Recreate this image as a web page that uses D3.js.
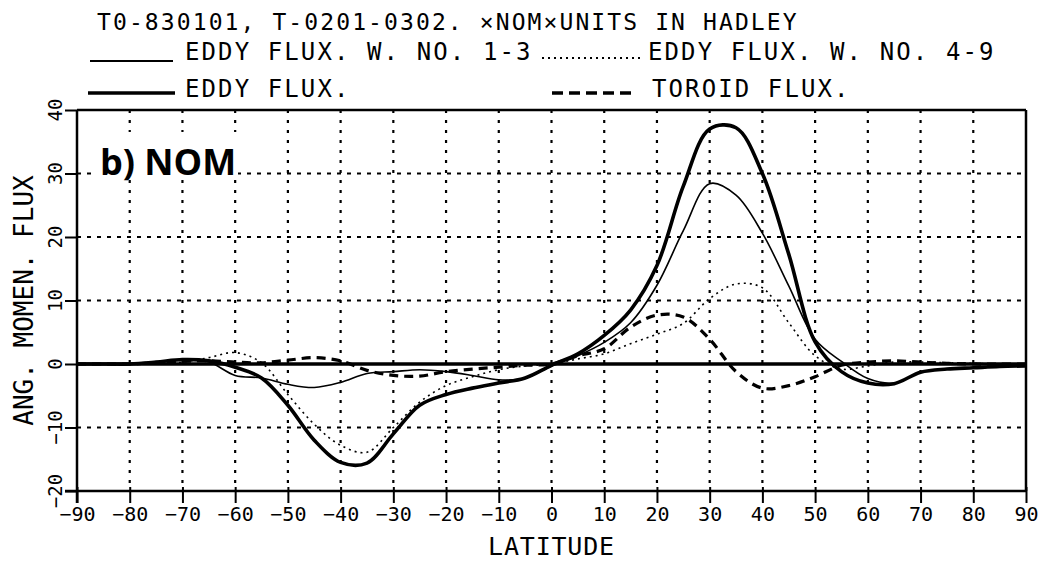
<!DOCTYPE html>
<html>
<head>
<meta charset="utf-8">
<script src="https://cdn.jsdelivr.net/npm/d3@7"></script>
<style>
  body { margin: 0; background: #fff; }
  .canvas { width: 1039px; height: 562px; }
  text { font-family: "DejaVu Sans Mono", monospace; fill: #000; }
</style>
</head>
<body>
<div class="canvas"></div>
<script>
// latitude grid (deg) shared by all series
var lats = [-90,-85,-80,-75,-70,-65,-60,-55,-50,-45,-40,-35,-30,-25,-20,-15,-10,-5,
            0,5,10,15,20,25,30,35,40,45,50,55,60,65,70,75,80,85,90];

// eddy flux, wave numbers 1-3 (thin solid)
var eddy13 = [0,0,0,0.3,0.6,0.3,-1.8,-2.2,-3.2,-3.7,-2.9,-1.5,-1.2,-0.9,-1.2,-1.8,-2.5,-2.2,
              -0.3,1.3,3.4,6.5,12.4,21,28.4,26.6,20.6,12.3,3.9,0.4,-2.3,-3.0,-1.3,-0.8,-0.6,-0.4,-0.3];
// eddy flux, wave numbers 4-9 (dotted)
var eddy49 = [0,0,0,0,0.3,1.0,1.8,0.2,-4.8,-9.5,-12.8,-13.9,-10,-6,-3.4,-2,-0.9,-0.3,
              0,0.8,1.6,3.2,4.7,6.4,10.3,12.6,12,6.5,1.3,-0.8,-0.3,0.3,0.3,0.2,0.1,0,0];
// total eddy flux (thick solid)
var eddyAll = [0,0,0,0.3,0.7,0.5,-0.5,-2.2,-6.5,-12,-15.5,-15.6,-11,-6.5,-4.8,-3.8,-3.0,-2.2,
               -0.2,1.6,4.5,8.5,15.5,28,37,37.2,30,17.3,3.5,-1.2,-3.0,-3.1,-1.3,-0.8,-0.6,-0.4,-0.3];
// toroidal flux (thick dashed)
var toroid = [0,0,0,0.2,0.4,0.5,0.3,0.2,0.6,1.0,0.5,-1.0,-1.8,-1.9,-1.2,-0.8,-0.5,-0.2,
              0,1.3,2.4,5.8,7.7,7.4,3.9,-1.2,-3.8,-3.4,-2.0,-0.2,0.3,0.5,0.3,0.1,0,0,0];

var xTicks = d3.range(-90, 91, 10);
var yTicks = [-20,-10,0,10,20,30,40];
var xGrid = d3.range(-80, 81, 10);
var yGrid = [-10,10,20,30];

var titleText = 'T0-830101, T-0201-0302. \u00d7NOM\u00d7UNITS IN HADLEY';
var legendLabels = ['EDDY FLUX. W. NO. 1-3', 'EDDY FLUX. W. NO. 4-9', 'EDDY FLUX.', 'TOROID FLUX.'];

var width = 1039, height = 562;
var svg = d3.select('.canvas').append('svg')
	.attr('width', width).attr('height', height);

var x = d3.scaleLinear().domain([-90, 90]).range([77, 1026]);
var y = d3.scaleLinear().domain([-20, 40]).range([491, 110]);

// grid
svg.selectAll('line.vgrid').data(xGrid).enter().append('line')
	.attr('x1', d => x(d)).attr('x2', d => x(d))
	.attr('y1', y(40)).attr('y2', y(-20))
	.attr('stroke', '#000').attr('stroke-width', 2.2)
	.attr('stroke-dasharray', '3,7');
svg.selectAll('line.hgrid').data(yGrid).enter().append('line')
	.attr('x1', x(-90)).attr('x2', x(90))
	.attr('y1', d => y(d)).attr('y2', d => y(d))
	.attr('stroke', '#000').attr('stroke-width', 2.2)
	.attr('stroke-dasharray', '4,6');

// frame
svg.append('line').attr('x1', x(-90)).attr('x2', x(90)).attr('y1', y(40)).attr('y2', y(40))
	.attr('stroke', '#000').attr('stroke-width', 2.5);
svg.append('line').attr('x1', x(90)).attr('x2', x(90)).attr('y1', y(40)).attr('y2', y(-20))
	.attr('stroke', '#000').attr('stroke-width', 2.5);
svg.append('line').attr('x1', x(-90)).attr('x2', x(90)).attr('y1', y(0)).attr('y2', y(0))
	.attr('stroke', '#000').attr('stroke-width', 3.5);

// axes
var xAxis = d3.axisBottom(x).tickValues(xTicks).tickSize(12).tickPadding(4)
	.tickFormat(d => d < 0 ? '\u2212' + Math.abs(d) : d);
var gx = svg.append('g').attr('transform', 'translate(0,' + y(-20) + ')').call(xAxis);
gx.select('.domain').attr('stroke-width', 2.5).attr('d', 'M' + (x(-90) - 12) + ',0H' + x(90));
gx.selectAll('.tick line').attr('stroke-width', 2).attr('y1', -4);
gx.selectAll('.tick text').attr('font-size', 20).attr('font-family', '"DejaVu Sans Mono", monospace');

var yAxis = d3.axisLeft(y).tickValues(yTicks).tickSize(12).tickFormat('');
var gy = svg.append('g').attr('transform', 'translate(' + x(-90) + ',0)').call(yAxis);
gy.select('.domain').attr('stroke-width', 2.5).attr('d', 'M0,' + y(40) + 'V' + (y(-20) + 12));
gy.selectAll('.tick line').attr('stroke-width', 2);

svg.selectAll('text.ylab').data(yTicks).enter().append('text')
	.attr('class', 'ylab')
	.attr('transform', d => 'translate(62,' + y(d) + ') rotate(-90)')
	.attr('text-anchor', 'middle')
	.attr('font-size', 19)
	.text(d => d < 0 ? '\u2212' + Math.abs(d) : d);

// axis titles
svg.append('text').attr('x', x(0)).attr('y', 555)
	.attr('text-anchor', 'middle').attr('font-size', 25).attr('letter-spacing', 0.8).text('LATITUDE');
svg.append('text').attr('transform', 'translate(33,' + y(10) + ') rotate(-90)')
	.attr('text-anchor', 'middle').attr('font-size', 26).text('ANG. MOMEN. FLUX');

// curves
var line = d3.line()
	.x((d, i) => x(lats[i]))
	.y(d => y(d))
	.curve(d3.curveCatmullRom.alpha(0.5));

var series = [
	{ values: eddy49, width: 1.6, dash: '2,4' },
	{ values: toroid, width: 3.2, dash: '9,6' },
	{ values: eddy13, width: 1.6, dash: null },
	{ values: eddyAll, width: 3.6, dash: null }
];
svg.selectAll('path.curve').data(series).enter().append('path')
	.attr('class', 'curve')
	.attr('d', d => line(d.values))
	.attr('fill', 'none').attr('stroke', '#000')
	.attr('stroke-width', d => d.width)
	.attr('stroke-dasharray', d => d.dash);

// panel label
svg.append('rect').attr('x', 96).attr('y', 132).attr('width', 142).attr('height', 48).attr('fill', '#fff');
svg.append('text').attr('x', 100).attr('y', 175)
	.style('font-family', '"Open Sans", "Noto Sans", sans-serif')
	.attr('font-weight', 'bold').attr('font-size', 36).text('b) NOM');

// title + legend
svg.append('text').attr('x', 97).attr('y', 30).attr('font-size', 23)
	.attr('letter-spacing', 2.1).text(titleText);

var legend = [
	{ x1: 90, x2: 173, ly: 61, tx: 185, ty: 60, w: 2, dash: null },
	{ x1: 542, x2: 643, ly: 58, tx: 648, ty: 60, w: 2, dash: '2,4' },
	{ x1: 88, x2: 175, ly: 93, tx: 185, ty: 97, w: 3.6, dash: null },
	{ x1: 552, x2: 634, ly: 93, tx: 652, ty: 97, w: 3.4, dash: '11,6' }
];
legend.forEach(function(d, i) {
	svg.append('line').attr('x1', d.x1).attr('x2', d.x2).attr('y1', d.ly).attr('y2', d.ly)
		.attr('stroke', '#000').attr('stroke-width', d.w).attr('stroke-dasharray', d.dash);
	svg.append('text').attr('x', d.tx).attr('y', d.ty).attr('font-size', 24)
		.attr('letter-spacing', 2.1).text(legendLabels[i]);
});
</script>
</body>
</html>
